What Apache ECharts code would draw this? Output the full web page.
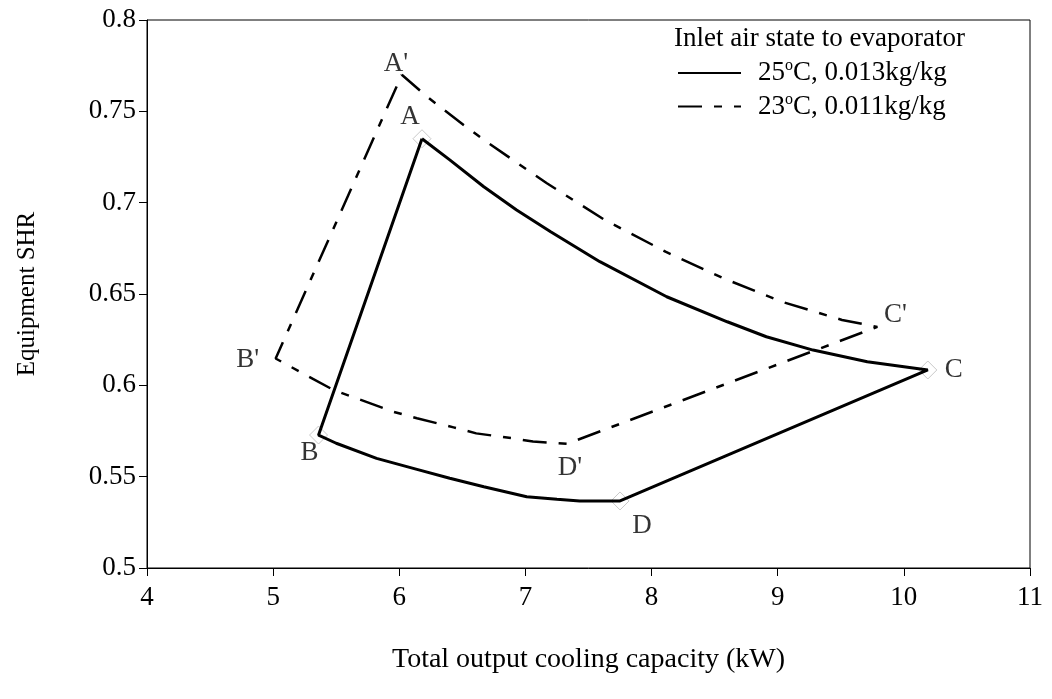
<!DOCTYPE html>
<html>
<head>
<meta charset="utf-8">
<script src="https://cdn.jsdelivr.net/npm/echarts@6/dist/echarts.min.js"></script>
<style>
  html, body { margin: 0; padding: 0; background: #fff; }
  #chart { width: 1052px; height: 699px; }
</style>
</head>
<body>
<div id="chart"></div>
<script>
// 数据：25°C 工况闭合曲线 A -> C -> D -> B -> A
const solidLoop = [
  [6.18, 0.735], [6.40, 0.7234], [6.67, 0.7087], [6.93, 0.696], [7.20, 0.6841],
  [7.59, 0.6677], [8.12, 0.6485], [8.60, 0.6348], [8.91, 0.6266], [9.28, 0.6193],
  [9.71, 0.6129], [10.19, 0.6084],
  [7.75, 0.5367], [7.43, 0.5367], [7.25, 0.5376], [7.01, 0.539], [6.67, 0.5445],
  [6.40, 0.5491], [6.14, 0.554], [5.82, 0.56], [5.50, 0.5683], [5.36, 0.5728],
  [6.18, 0.735]
];
// 23°C 工况闭合曲线 A' -> C' -> D' -> B' -> A'
const dashedLoop = [
  [6.02, 0.770], [6.22, 0.758], [6.51, 0.7425], [6.69, 0.7334], [7.17, 0.7106],
  [7.63, 0.6905], [8.11, 0.6732], [8.57, 0.6586], [9.03, 0.6458], [9.51, 0.6358],
  [9.79, 0.632],
  [7.33, 0.568], [7.06, 0.5692], [6.90, 0.571], [6.61, 0.5737], [6.43, 0.577],
  [6.14, 0.582], [5.95, 0.5856], [5.66, 0.5929], [5.48, 0.5974], [5.21, 0.6075],
  [5.02, 0.6147],
  [6.02, 0.770]
];
const solidNames = ["A", "B", "C", "D"];
const solidVertices = [[6.18, 0.735], [5.36, 0.5728], [10.19, 0.6084], [7.75, 0.5367]];
const dashedNames = ["A'", "B'", "C'", "D'"];
const dashedVertices = [[6.02, 0.770], [5.02, 0.6147], [9.79, 0.632], [7.33, 0.568]];
const seriesNames = ["25°C, 0.013kg/kg", "23°C, 0.011kg/kg"];
const legendTexts = ["{n|25}{sup|o}{n|C, 0.013kg/kg}", "{n|23}{sup|o}{n|C, 0.011kg/kg}"];

const font = "Liberation Serif";
// 标注文字相对顶点的偏移
const labelOffset = {
  A: [-12, -22], B: [-9, 18], C: [26, 0], D: [22, 25],
  "A'": [-6, -11], "B'": [-28, 1], "C'": [18, -12], "D'": [3, 24]
};

function vertexData(names, points) {
  return points.map(function (p, i) {
    return {
      value: p,
      name: names[i],
      label: { offset: labelOffset[names[i]] }
    };
  });
}

const chart = echarts.init(document.getElementById("chart"));
const option = {
  animation: false,
  backgroundColor: "#fff",
  textStyle: { fontFamily: font },
  grid: {
    left: 147, right: 22, top: 20, bottom: 131,
    show: true, borderColor: "#000", borderWidth: 1
  },
  graphic: [{
    type: "text",
    left: 674, top: 25,
    style: { text: "Inlet air state to evaporator", font: "27px " + font, fill: "#000" }
  }],
  legend: {
    data: seriesNames,
    orient: "vertical",
    left: 677, top: 58, padding: 0,
    itemWidth: 63, itemHeight: 20, itemGap: 5,
    itemStyle: { opacity: 0 },
    formatter: function (name) { return legendTexts[seriesNames.indexOf(name)]; },
    textStyle: {
      padding: [0, 0, 0, 12],
      rich: {
        n: { fontFamily: font, fontSize: 27, color: "#000", lineHeight: 28 },
        sup: { fontFamily: font, fontSize: 16, color: "#000", verticalAlign: "top", padding: [0, 0, 14, 0] }
      }
    }
  },
  xAxis: {
    type: "value", min: 4, max: 11, interval: 1,
    name: "Total output cooling capacity (kW)",
    nameLocation: "middle", nameGap: 78,
    nameTextStyle: { fontFamily: font, fontSize: 28, color: "#000" },
    axisLine: { lineStyle: { color: "#000", width: 1 } },
    axisTick: { length: 8, lineStyle: { color: "#000" } },
    axisLabel: { fontFamily: font, fontSize: 27, color: "#000", margin: 16 },
    splitLine: { show: false }
  },
  yAxis: {
    type: "value", min: 0.5, max: 0.8, interval: 0.05,
    name: "Equipment SHR",
    nameLocation: "middle", nameGap: 107,
    nameTextStyle: { fontFamily: font, fontSize: 25, color: "#000" },
    axisLine: { lineStyle: { color: "#000", width: 1 } },
    axisTick: { length: 8, lineStyle: { color: "#000" } },
    axisLabel: { fontFamily: font, fontSize: 27, color: "#000", margin: 11 },
    splitLine: { show: false }
  },
  series: [
    {
      name: seriesNames[0],
      type: "line",
      data: solidLoop,
      symbol: "none",
      z: 3,
      lineStyle: { color: "#000", width: 3 },
      itemStyle: { color: "#000" }
    },
    {
      name: seriesNames[1],
      type: "line",
      data: dashedLoop,
      symbol: "none",
      z: 3,
      lineStyle: { color: "#000", width: 2.5, type: [24, 12, 8, 12] },
      itemStyle: { color: "#000" }
    },
    {
      type: "scatter",
      data: vertexData(solidNames, solidVertices),
      symbol: "diamond",
      symbolSize: 18,
      z: 2,
      itemStyle: { color: "rgba(255,255,255,0)", borderColor: "#bbb", borderWidth: 1 },
      label: {
        show: true, position: "inside", formatter: "{b}",
        fontFamily: font, fontSize: 27, color: "#000"
      }
    },
    {
      type: "scatter",
      data: vertexData(dashedNames, dashedVertices),
      symbol: "circle",
      symbolSize: 1,
      z: 2,
      itemStyle: { color: "rgba(0,0,0,0)" },
      label: {
        show: true, position: "inside", formatter: "{b}",
        fontFamily: font, fontSize: 27, color: "#000"
      }
    }
  ]
};
chart.setOption(option);
window.addEventListener("resize", function () {
  chart.resize();
});
</script>
</body>
</html>
